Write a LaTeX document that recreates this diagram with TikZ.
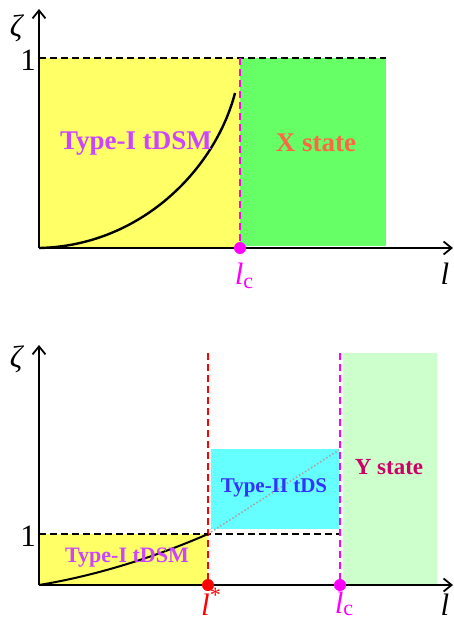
\documentclass[tikz,border=0pt]{standalone}
\usepackage{fontspec}
\setmainfont{Liberation Serif}
\usetikzlibrary{arrows.meta}
\definecolor{cyel}{RGB}{255,255,102}
\definecolor{cgreen}{RGB}{102,255,102}
\definecolor{clgreen}{RGB}{204,255,204}
\definecolor{ccyan}{RGB}{102,255,255}
\definecolor{cmag}{RGB}{255,0,255}
\definecolor{cviolet}{RGB}{204,68,255}
\definecolor{corange}{RGB}{255,102,68}
\definecolor{ccrimson}{RGB}{204,0,102}
\definecolor{cblue}{RGB}{51,51,255}
\definecolor{cred}{RGB}{255,0,0}
\tikzset{
  axis/.style={line width=2.6pt,-{Straight Barb[length=8pt,width=13pt,line width=1.8pt]}},
  dashline/.style={line width=2.4pt,dash pattern=on 7pt off 4pt},
  big/.style={font=\fontsize{31}{33}\selectfont,inner sep=0pt},
  lbl/.style={font=\fontsize{27}{30}\selectfont\bfseries},
  dot/.style={circle,inner sep=0pt,minimum size=12pt},
}
\begin{document}
\begin{tikzpicture}[x=1pt,y=-1pt]
\useasboundingbox (0,0) rectangle (454,622);
% ---------- top panel ----------
\fill[cyel] (39,58) rectangle (240,248);
\fill[cgreen] (240,58) rectangle (386,246);
\coordinate (o1) at (39,248);
\coordinate (x1) at (453,248);
\coordinate (y1) at (39,9);
\draw[dashline] (39,58) -- (386,58);
\draw[dashline,cmag] (240,58) -- (240,248);
\draw[line width=2.4pt] (o1) .. controls (140,246) and (215,170) .. (235,93);
\draw[axis] (o1) -- (x1);
\draw[axis] (o1) -- (y1);
\node[dot,fill=cmag] (d1) at (240,248) {};
\node[big,anchor=base] (one1) at (28,70) {1};
\node[big,anchor=base] (z1) at (17,36) {\textit{ζ}};
\node[big,anchor=base] (l1) at (445,284) {\textit{l}};
\node[big,anchor=base,text=cmag] (lc1) at (244,284) {\textit{l}\raisebox{-0.3ex}{\fontsize{22}{24}\selectfont c}};
\node[lbl,text=cviolet] (t1) at (136,143) {Type-I tDSM};
\node[lbl,text=corange] (xs) at (316,143) {X state};
% ---------- bottom panel ----------
\fill[cyel] (39,534) rectangle (208,585);
\fill[ccyan] (211,449) rectangle (339,529);
\fill[clgreen] (343,353) rectangle (437,585);
\coordinate (o2) at (39,585);
\coordinate (x2) at (453,585);
\coordinate (y2) at (39,345);
\draw[dashline] (39,534) -- (340,534);
\draw[gray!70,line width=1.6pt,dotted] (208,534) -- (339,450);
\draw[dashline,cred] (208,353) -- (208,585);
\draw[dashline,cmag] (340,353) -- (340,585);
\draw[line width=2pt] (o2) .. controls (100,575) and (160,555) .. (208,534);
\draw[axis] (o2) -- (x2);
\draw[axis] (o2) -- (y2);
\node[dot,fill=cred] (d2) at (208,585) {};
\node[dot,fill=cmag] (d3) at (340,585) {};
\node[big,anchor=base] (one2) at (28,546) {1};
\node[big,anchor=base] (z2) at (17,367) {\textit{ζ}};
\node[big,anchor=base] (l2) at (445,615) {\textit{l}};
\node[big,anchor=base,text=cred] (ls) at (211,615) {\textit{l}\raisebox{0.9ex}{\fontsize{22}{24}\selectfont *}};
\node[big,anchor=base,text=cmag] (lc2) at (344,613) {\textit{l}\raisebox{-0.2ex}{\fontsize{22}{24}\selectfont c}};
\node[lbl,text=cviolet,font=\fontsize{22}{24}\selectfont\bfseries] (t2) at (127,558) {Type-I tDSM};
\node[lbl,text=cblue,font=\fontsize{21}{23}\selectfont\bfseries] (t3) at (274,488) {Type-II tDS};
\node[lbl,text=ccrimson,font=\fontsize{23}{25}\selectfont\bfseries] (ys) at (389,467) {Y state};
\end{tikzpicture}
\end{document}
